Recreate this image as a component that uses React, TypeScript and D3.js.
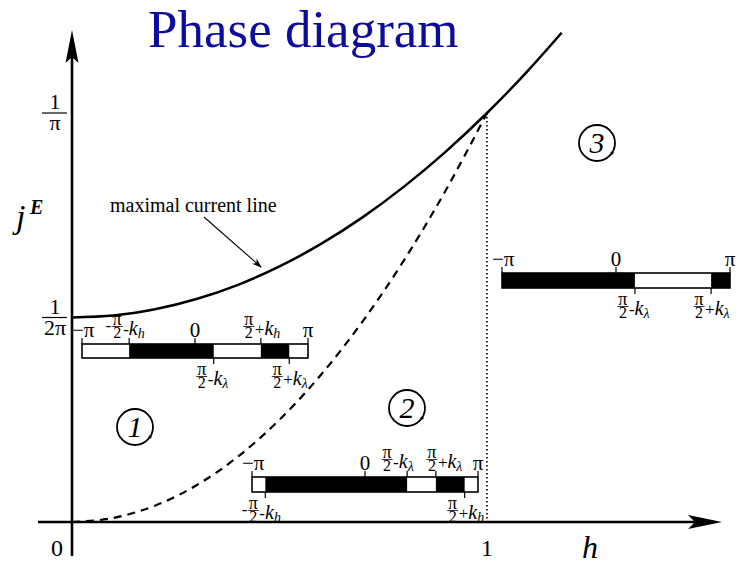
import React from "react";
import * as d3 from "d3";

const PI = Math.PI;

// Maximal current line (solid): field h and energy current j^E
const hMaxLine = [0, 0.1, 0.2, 0.3, 0.4, 0.5, 0.6, 0.7, 0.8, 0.9, 1.0, 1.1, 1.18];
const jMaxLine = [0.1592, 0.1607, 0.1655, 0.1735, 0.1846, 0.1989, 0.2164, 0.2371, 0.261, 0.2881, 0.3183, 0.3517, 0.3808];

// Boundary between phases 1 and 2 (dashed)
const hBoundary = [0, 0.1, 0.2, 0.3, 0.4, 0.5, 0.6, 0.7, 0.8, 0.9, 1.0];
const jBoundary = [0, 0.0032, 0.0127, 0.0286, 0.0509, 0.0796, 0.1146, 0.156, 0.2037, 0.2578, 0.3183];

// Axis ticks
const xTickValues = [0, 1];
const xTickLabels = ["0", "1"];
const yTickValues = [1 / (2 * PI), 1 / PI];
const yTickDenominators = ["2π", "π"];

// Phases and their Fermi-sea parameters
const phaseNames = ["1", "2", "3"];
const phaseKh = [0.26, 1.2, 0];
const phaseKlambda = [1.05, 0.4, 1.05];

const W = 740;
const H = 568;
const SERIF = "'Liberation Serif', 'Times New Roman', serif";

const x = d3.scaleLinear().domain([0, 1]).range([72, 487]);
const y = d3.scaleLinear().domain([0, 1 / PI]).range([522, 113]);

type Lab = {
  a: number;
  kind: "plain" | "negpi" | "frac";
  text?: string;
  pre?: string;
  op?: string;
  sub?: string;
  side: "top" | "bottom";
  dx?: number;
};

function occupied(i: number): [number, number][] {
  const kh = phaseKh[i];
  const kl = phaseKlambda[i];
  if (i === 0) return [[-PI / 2 - kh, PI / 2 - kl], [PI / 2 + kh, PI / 2 + kl]];
  if (i === 1) return [[-PI / 2 - kh, PI / 2 - kl], [PI / 2 + kl, PI / 2 + kh]];
  return [[-PI, PI / 2 - kl], [PI / 2 + kl, PI]];
}

function barLabels(i: number): Lab[] {
  const kh = phaseKh[i];
  const kl = phaseKlambda[i];
  const ends: Lab[] = [
    { a: -PI, kind: "negpi", side: "top" },
    { a: 0, kind: "plain", text: "0", side: "top" },
    { a: PI, kind: "plain", text: "π", side: "top" },
  ];
  if (i === 0)
    return [
      ...ends,
      { a: -PI / 2 - kh, kind: "frac", pre: "-", op: "-", sub: "h", side: "top" },
      { a: PI / 2 + kh, kind: "frac", op: "+", sub: "h", side: "top" },
      { a: PI / 2 - kl, kind: "frac", op: "-", sub: "λ", side: "bottom" },
      { a: PI / 2 + kl, kind: "frac", op: "+", sub: "λ", side: "bottom" },
    ];
  if (i === 1)
    return [
      ...ends,
      { a: PI / 2 - kl, kind: "frac", op: "-", sub: "λ", side: "top", dx: -8 },
      { a: PI / 2 + kl, kind: "frac", op: "+", sub: "λ", side: "top", dx: 8 },
      { a: -PI / 2 - kh, kind: "frac", pre: "-", op: "-", sub: "h", side: "bottom" },
      { a: PI / 2 + kh, kind: "frac", op: "+", sub: "h", side: "bottom" },
    ];
  return [
    ...ends,
    { a: PI / 2 - kl, kind: "frac", op: "-", sub: "λ", side: "bottom" },
    { a: PI / 2 + kl, kind: "frac", op: "+", sub: "λ", side: "bottom" },
  ];
}

// A label such as "-π/2-k_h": stacked π over 2, then the sign and k with subscript
function Frac({ cx, db, pre, op, sub }: { cx: number; db: number; pre?: string; op?: string; sub?: string }) {
  const fx = cx - 12;
  return (
    <g>
      <line x1={fx - 5.5} x2={fx + 5.5} y1={db - 11.5} y2={db - 11.5} stroke="#000" strokeWidth={0.8} />
      <text fontFamily={SERIF} fill="#000" fontSize={18}>
        {pre && (
          <tspan x={fx - 6} y={db - 7} fontSize={17} textAnchor="end">
            {pre}
          </tspan>
        )}
        <tspan x={fx} y={db - 13} textAnchor="middle">π</tspan>
        <tspan x={fx} y={db} fontSize={16} textAnchor="middle">2</tspan>
        <tspan x={fx + 6} y={db - 3} fontSize={17}>{op}</tspan>
        <tspan fontStyle="italic" fontSize={20}>k</tspan>
        <tspan fontStyle="italic" fontSize={14} dy={3}>{sub}</tspan>
      </text>
    </g>
  );
}

function Bar({ i, x0, x1, top, h }: { i: number; x0: number; x1: number; top: number; h: number }) {
  const s = d3.scaleLinear().domain([-PI, PI]).range([x0, x1]);
  const labels = barLabels(i);
  const bottom = top + h;
  return (
    <g>
      <rect x={x0} y={top} width={x1 - x0} height={h} fill="#fff" stroke="#000" strokeWidth={1.6} />
      {occupied(i).map(([a, b], k) => (
        <rect key={k} x={s(a)} y={top} width={s(b) - s(a)} height={h} fill="#000" />
      ))}
      {labels.map((l, k) => {
        const tx = s(l.a);
        const tick =
          l.side === "top" ? (
            <line x1={tx} x2={tx} y1={top} y2={top - 6} stroke="#000" strokeWidth={1.2} />
          ) : (
            <line x1={tx} x2={tx} y1={bottom} y2={bottom + 6} stroke="#000" strokeWidth={1.2} />
          );
        let lab: React.ReactNode = null;
        if (l.kind === "plain") {
          lab = (
            <text x={tx} y={top - 7} fontSize={21} textAnchor="middle" fontFamily={SERIF}>
              {l.text}
            </text>
          );
        } else if (l.kind === "negpi") {
          lab = (
            <text x={tx - 10} y={top - 7} fontSize={21} fontFamily={SERIF}>
              −π
            </text>
          );
        } else {
          const db = l.side === "top" ? top - 6 : bottom + 30;
          lab = <Frac cx={tx + (l.dx || 0)} db={db} pre={l.pre} op={l.op} sub={l.sub} />;
        }
        return (
          <g key={k}>
            {tick}
            {lab}
          </g>
        );
      })}
    </g>
  );
}

export default function App() {
  const maxLine = d3
    .line<number>()
    .x((_, k) => x(hMaxLine[k]))
    .y((d) => y(d))
    .curve(d3.curveMonotoneX)(jMaxLine);
  const boundary = d3
    .line<number>()
    .x((_, k) => x(hBoundary[k]))
    .y((d) => y(d))
    .curve(d3.curveMonotoneX)(jBoundary);

  const bars = [
    { x0: 82, x1: 308, top: 344, h: 14 },
    { x0: 252, x1: 478, top: 477, h: 15 },
    { x0: 502, x1: 730, top: 273, h: 15 },
  ];
  const circles = [
    { cx: 135, cy: 427 },
    { cx: 407, cy: 408 },
    { cx: 597, cy: 143 },
  ];

  return (
    <svg
      width={W}
      height={H}
      viewBox={`0 0 ${W} ${H}`}
      style={{ position: "absolute", left: 0, top: 0, background: "#fff" }}
    >
      <defs>
        <marker id="tip" viewBox="0 0 10 10" refX="9" refY="5" markerWidth="9" markerHeight="9" orient="auto">
          <path d="M0,1.5 L10,5 L0,8.5 L3,5 Z" fill="#000" />
        </marker>
      </defs>

      <text x={148} y={47} fontSize={53} fill="#0c0c9c" fontFamily={SERIF}>
        Phase diagram
      </text>

      {/* axes */}
      <line x1={72} x2={72} y1={556} y2={44} stroke="#000" strokeWidth={2.6} />
      <path d="M72,30 L78.5,63 L72,57 L65.5,63 Z" fill="#000" />
      <line x1={38} x2={708} y1={522} y2={522} stroke="#000" strokeWidth={2.6} />
      <path d="M722,522 L688,515 L695,522 L688,529 Z" fill="#000" />

      {xTickValues.map((v, k) => (
        <text key={k} x={x(v) + (v === 0 ? -15 : 0)} y={556} fontSize={24} textAnchor="middle" fontFamily={SERIF}>
          {xTickLabels[k]}
        </text>
      ))}
      <text x={590} y={558} fontSize={32} fontStyle="italic" textAnchor="middle" fontFamily={SERIF}>
        h
      </text>

      {yTickValues.map((v, k) => (
        <g key={k}>
          <line x1={42} x2={67} y1={y(v)} y2={y(v)} stroke="#000" strokeWidth={1.2} />
          <text fontFamily={SERIF} fontSize={22} textAnchor="middle">
            <tspan x={55} y={y(v) - 4}>1</tspan>
            <tspan x={55} y={y(v) + 17}>{yTickDenominators[k]}</tspan>
          </text>
        </g>
      ))}
      <text fontFamily={SERIF} fontStyle="italic">
        <tspan x={16} y={228} fontSize={34}>j</tspan>
        <tspan x={30} y={214} fontSize={20} fontWeight="bold">E</tspan>
      </text>

      {/* phase boundaries */}
      <line x1={x(1)} x2={x(1)} y1={y(1 / PI)} y2={y(0)} stroke="#000" strokeWidth={1.6} strokeDasharray="1.5,2.5" />
      <path d={boundary || ""} fill="none" stroke="#000" strokeWidth={2.2} strokeDasharray="8,6" />
      <path d={maxLine || ""} fill="none" stroke="#000" strokeWidth={2.5} />

      <text x={110} y={212} fontSize={20} fontFamily={SERIF}>
        maximal current line
      </text>
      <line x1={204} y1={217} x2={261} y2={267} stroke="#000" strokeWidth={1.1} markerEnd="url(#tip)" />

      {circles.map((c, k) => (
        <g key={k}>
          <circle cx={c.cx} cy={c.cy} r={18} fill="none" stroke="#000" strokeWidth={1.8} />
          <circle cx={c.cx + 15} cy={c.cy + 10} r={1.6} fill="#000" />
          <text
            x={c.cx}
            y={c.cy + 10}
            fontSize={30}
            fontStyle="italic"
            textAnchor="middle"
            fontFamily={SERIF}
          >
            {phaseNames[k]}
          </text>
        </g>
      ))}

      {bars.map((b, k) => (
        <Bar key={k} i={k} {...b} />
      ))}
    </svg>
  );
}
